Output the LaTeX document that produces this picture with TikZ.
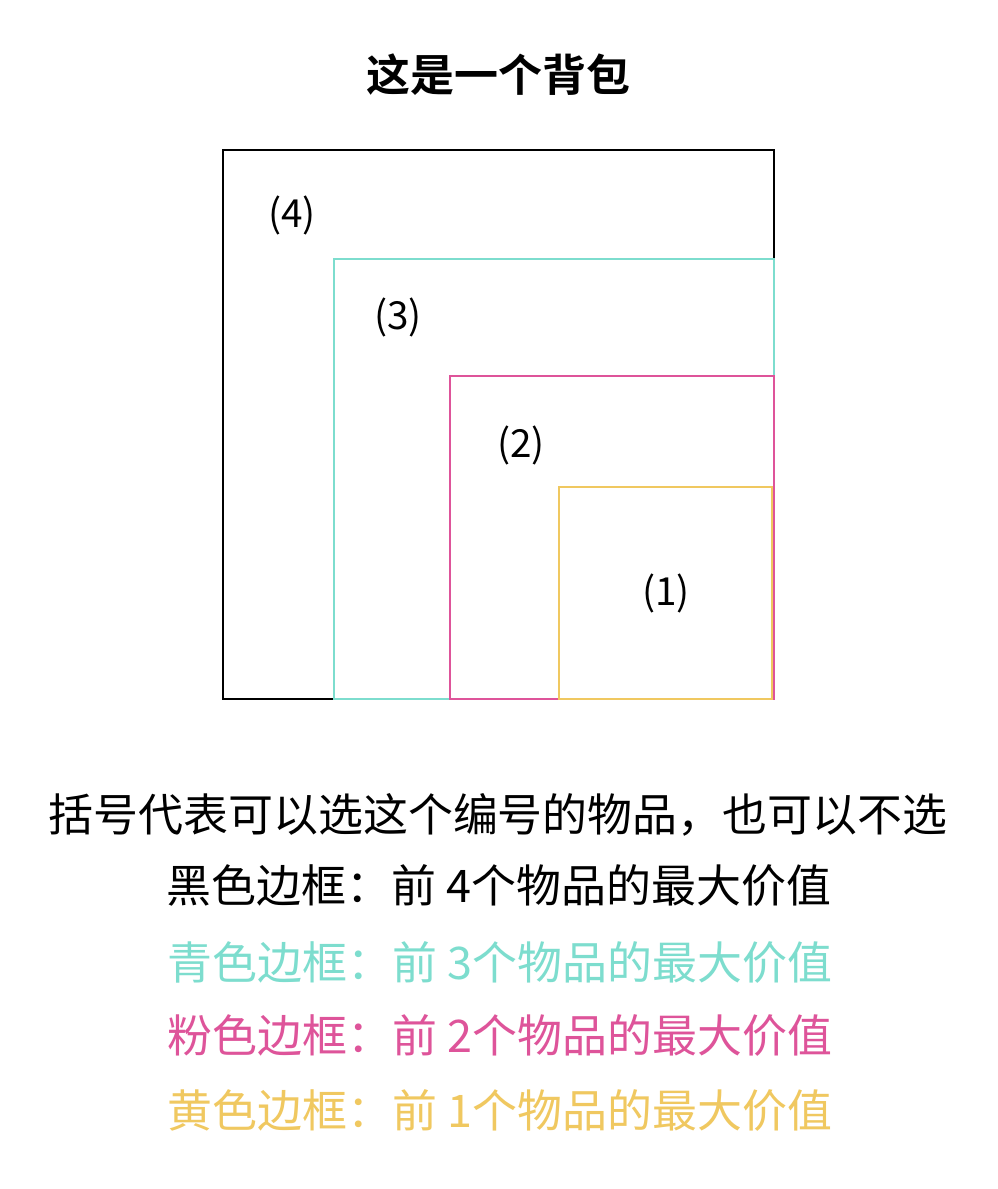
\documentclass[tikz,border=0pt]{standalone}
\usepackage{fontspec}
\setmainfont{Noto Sans CJK SC}
\newfontfamily\cjkbold{Noto Sans CJK SC Bold}
\definecolor{cyanc}{RGB}{125,221,206}
\definecolor{pinkc}{RGB}{222,84,154}
\definecolor{yellowc}{RGB}{240,200,96}
\begin{document}
\begin{tikzpicture}[x=0.75pt,y=-0.75pt,
  box/.style={line width=2.1pt},
  lbl/.style={font=\fontsize{29}{34}\selectfont,inner sep=0pt},
  txt/.style={font=\fontsize{33.7}{40}\selectfont,inner sep=0pt}]
\useasboundingbox[fill=white] (0,0) rectangle (997,1189);
\node[inner sep=0pt,font=\fontsize{33}{40}\cjkbold] (title) at (498,75) {这是一个背包};
\draw[box,black] (223,150) rectangle (774,699);
\draw[box,cyanc] (334,259) rectangle (774,699);
\draw[box,pinkc] (450,376) rectangle (774,699);
\draw[box,yellowc] (559,487) rectangle (772,699);
\node[lbl] (l4) at (292,215) {(4)};
\node[lbl] (l3) at (398,317) {(3)};
\node[lbl] (l2) at (521,445) {(2)};
\node[lbl] (l1) at (666,593) {(1)};
\node[txt] (t1) at (498,815) {括号代表可以选这个编号的物品，也可以不选};
\node[txt] (t2) at (499,885) {黑色边框：前 4个物品的最大价值};
\node[txt,text=cyanc] (t3) at (500,962) {青色边框：前 3个物品的最大价值};
\node[txt,text=pinkc] (t4) at (500,1035) {粉色边框：前 2个物品的最大价值};
\node[txt,text=yellowc] (t5) at (500,1110) {黄色边框：前 1个物品的最大价值};
\end{tikzpicture}
\end{document}
